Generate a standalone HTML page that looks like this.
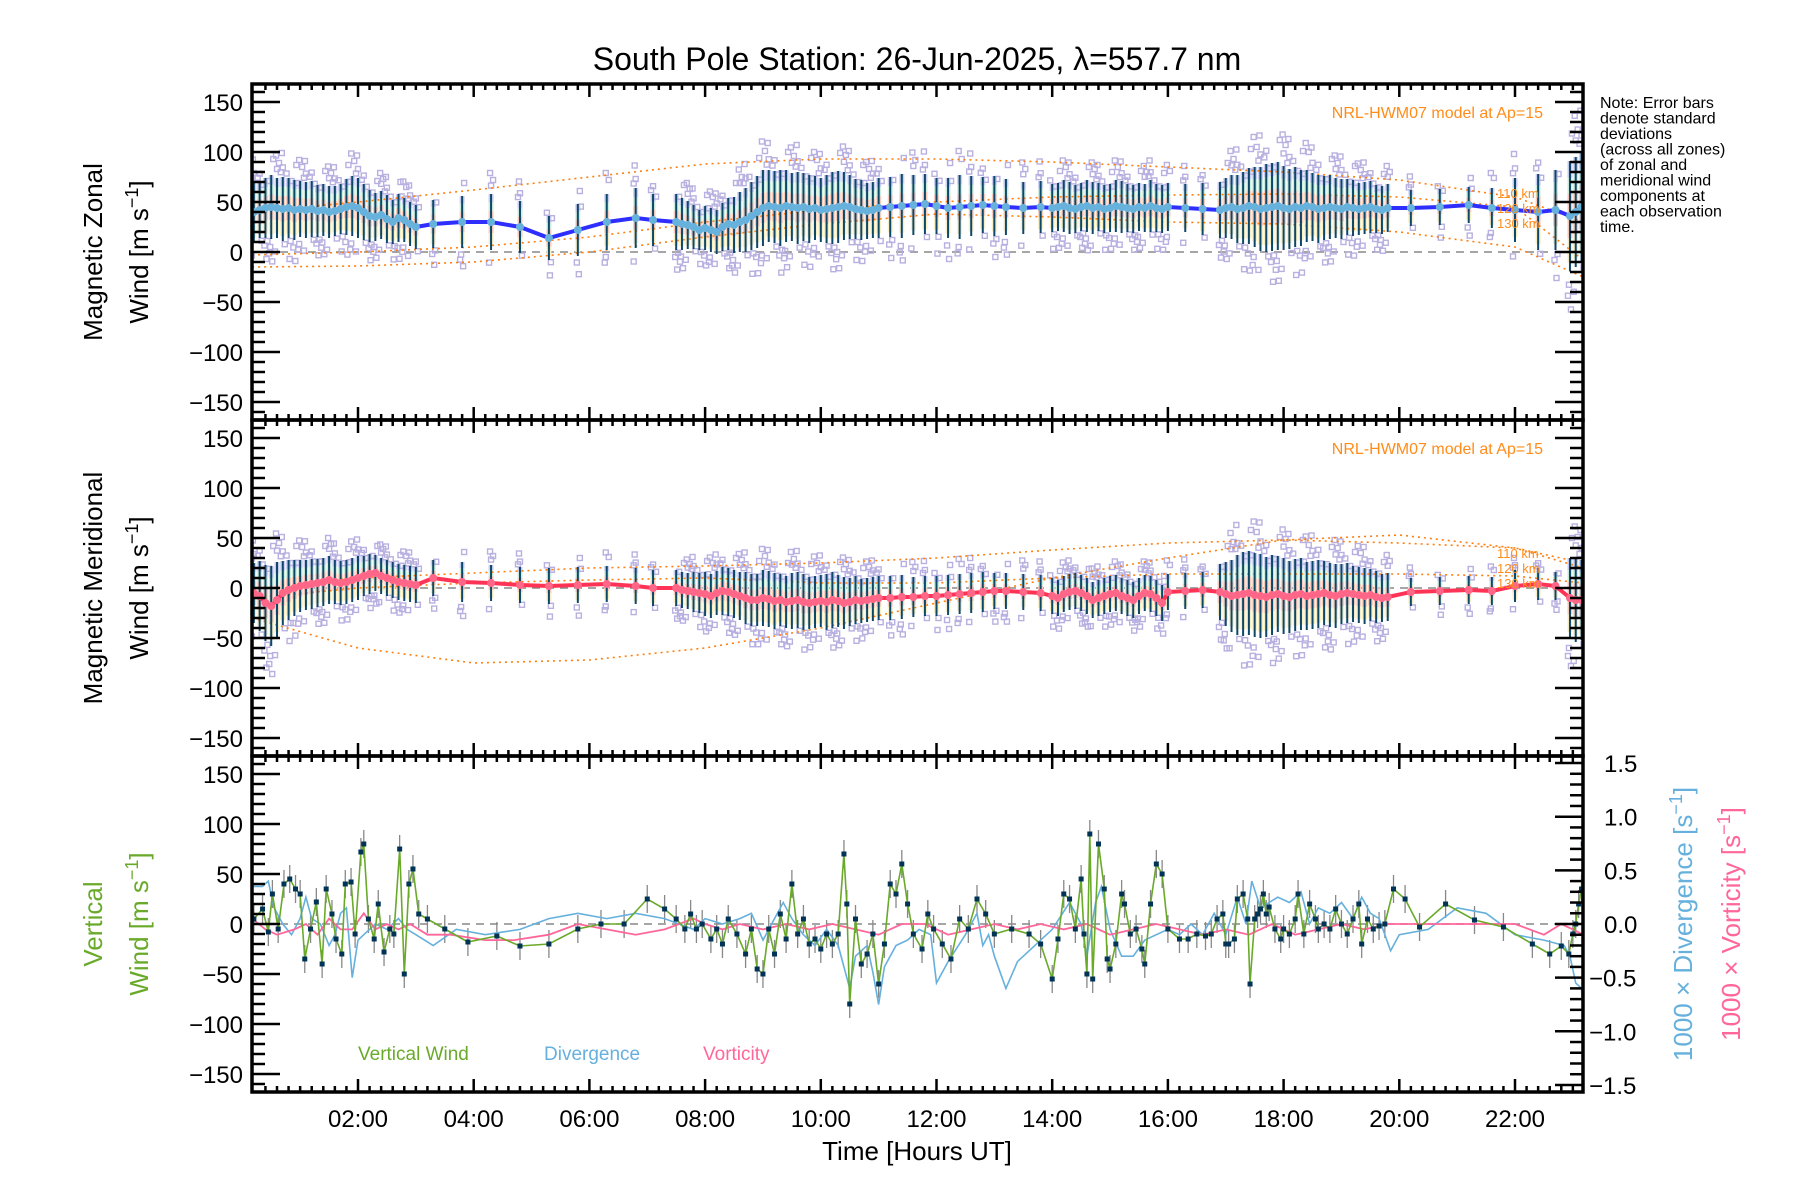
<!DOCTYPE html>
<html><head><meta charset="utf-8">
<style>
html,body{margin:0;padding:0;background:#fff;}
svg{display:block;font-family:"Liberation Sans",sans-serif;}
</style></head>
<body>
<svg id="chart" width="1800" height="1200" viewBox="0 0 1800 1200" xmlns="http://www.w3.org/2000/svg">
<text x="917" y="70" font-size="32" text-anchor="middle">South Pole Station: 26-Jun-2025, λ=557.7 nm</text>
<g id="layer"></g>
<text transform="translate(102,252) rotate(-90)" font-size="26" text-anchor="middle">Magnetic Zonal</text>
<text transform="translate(148,252) rotate(-90)" font-size="26" text-anchor="middle">Wind [m s<tspan dy="-10" font-size="18">−1</tspan><tspan dy="10">]</tspan></text>
<text transform="translate(102,588) rotate(-90)" font-size="26" text-anchor="middle">Magnetic Meridional</text>
<text transform="translate(148,588) rotate(-90)" font-size="26" text-anchor="middle">Wind [m s<tspan dy="-10" font-size="18">−1</tspan><tspan dy="10">]</tspan></text>
<text transform="translate(102,924) rotate(-90)" font-size="26" fill="#6aaa2a" text-anchor="middle">Vertical</text>
<text transform="translate(148,924) rotate(-90)" font-size="26" fill="#6aaa2a" text-anchor="middle">Wind [m s<tspan dy="-10" font-size="18">−1</tspan><tspan dy="10">]</tspan></text>
<text transform="translate(1692,924) rotate(-90)" font-size="26" fill="#66b0dd" text-anchor="middle">1000 × Divergence [s<tspan dy="-10" font-size="18">−1</tspan><tspan dy="10">]</tspan></text>
<text transform="translate(1740,924) rotate(-90)" font-size="26" fill="#ff6699" text-anchor="middle">1000 × Vorticity [s<tspan dy="-10" font-size="18">−1</tspan><tspan dy="10">]</tspan></text>
<text x="917" y="1160" font-size="26" text-anchor="middle">Time [Hours UT]</text>
<g font-size="16">
<text x="1600" y="108">Note: Error bars</text>
<text x="1600" y="123.5">denote standard</text>
<text x="1600" y="139">deviations</text>
<text x="1600" y="154.5">(across all zones)</text>
<text x="1600" y="170">of zonal and</text>
<text x="1600" y="185.5">meridional wind</text>
<text x="1600" y="201">components at</text>
<text x="1600" y="216.5">each observation</text>
<text x="1600" y="232">time.</text>
</g>
<text x="1543" y="118" font-size="16" fill="#ff8c1a" text-anchor="end">NRL-HWM07 model at Ap=15</text>
<text x="1543" y="454" font-size="16" fill="#ff8c1a" text-anchor="end">NRL-HWM07 model at Ap=15</text>
<g font-size="13" fill="#ff8c1a">
<text x="1497" y="198">110 km</text><text x="1497" y="213">120 km</text><text x="1497" y="228">130 km</text></g>
<g font-size="13" fill="#ff8c1a">
<text x="1497" y="558">110 km</text><text x="1497" y="573">120 km</text><text x="1497" y="588">130 km</text></g>
<text x="358" y="1060" font-size="19" fill="#6aaa2a">Vertical Wind</text>
<text x="544" y="1060" font-size="19" fill="#66b0dd">Divergence</text>
<text x="703" y="1060" font-size="19" fill="#ff6699">Vorticity</text>
</svg>
<script>
const obsTimes=[0.2,0.3,0.4,0.5,0.6,0.7,0.8,0.9,1.0,1.1,1.2,1.3,1.4,1.5,1.6,1.7,1.8,1.9,2.0,2.1,2.2,2.3,2.4,2.5,2.6,2.7,2.8,2.9,3.0,
3.3,3.8,4.3,4.8,5.3,5.8,6.3,6.8,7.1,
7.5,7.6,7.7,7.8,7.9,8.0,8.1,8.2,8.3,8.4,8.5,
8.6,8.7,8.8,8.9,9.0,9.1,9.2,9.3,9.4,9.5,9.6,9.7,9.8,9.9,10.0,10.1,10.2,10.3,10.4,10.5,10.6,10.7,10.8,10.9,11.0,
11.2,11.4,11.6,11.8,12.0,12.2,12.4,12.6,12.8,13.0,13.2,13.5,13.8,
14.0,14.1,14.2,14.3,14.4,14.5,14.6,14.7,14.8,14.9,15.0,15.1,15.2,15.3,15.4,15.5,15.6,15.7,15.8,15.9,16.0,
16.3,16.6,
16.9,17.0,17.1,17.2,17.3,17.4,17.5,17.6,17.7,17.8,17.9,18.0,18.1,18.2,18.3,18.4,18.5,18.6,18.7,18.8,18.9,19.0,19.1,19.2,19.3,19.4,19.5,19.6,19.7,19.8,
20.2,20.7,21.2,21.6,22.0,22.4,22.7,
22.95,23.05,23.15];
const zonalMean=[40,42,44,45,44,43,44,42,43,42,43,41,42,40,41,43,45,46,44,40,36,35,37,33,30,34,32,28,25,
28,30,30,25,14,22,30,34,32,
30,28,27,25,22,24,22,20,25,28,27,
30,32,36,40,44,46,45,44,46,45,44,45,43,44,42,43,44,45,46,45,43,42,41,42,44,
45,46,47,48,46,44,45,46,47,46,45,44,45,
44,45,46,44,43,45,46,44,45,43,44,46,45,44,43,45,44,46,44,43,45,
44,43,
42,44,45,43,44,46,45,43,44,45,46,44,43,45,44,46,45,43,44,45,44,43,45,44,43,44,45,43,42,44,
44,45,47,44,42,40,42,
36,40,45];
const zonalStd=[30,28,30,32,30,32,30,30,28,28,28,26,26,26,25,25,28,30,30,28,26,24,24,24,22,24,22,22,22,
24,26,28,26,22,26,28,30,26,
28,26,24,22,20,22,22,22,24,26,28,
30,32,34,36,38,36,36,38,36,34,36,34,34,32,32,34,36,36,34,32,30,30,28,28,30,
30,32,30,30,28,30,32,30,28,30,28,26,26,
24,24,26,26,24,24,26,26,24,24,24,26,26,24,24,24,24,26,24,24,24,
24,26,
28,30,32,34,36,38,40,42,44,44,44,42,40,40,38,36,34,34,32,32,30,30,28,28,26,26,26,24,24,24,
18,18,18,20,32,38,40,
55,55,55];
const meridMean=[-5,-8,-15,-18,-12,-5,-2,0,2,3,4,5,6,8,6,5,6,8,10,12,14,15,12,10,8,6,5,4,3,
10,6,5,3,2,3,4,2,0,
0,-2,-3,-4,-5,-6,-8,-5,-3,-4,-6,
-8,-10,-12,-12,-10,-11,-13,-12,-14,-13,-12,-14,-15,-14,-13,-14,-12,-13,-15,-14,-12,-13,-12,-11,-10,
-10,-9,-9,-8,-8,-7,-6,-5,-4,-3,-3,-4,-5,
-8,-10,-6,-4,-3,-5,-8,-12,-10,-8,-6,-5,-8,-10,-12,-8,-5,-6,-10,-15,-4,
-3,-2,
-4,-6,-8,-7,-6,-5,-7,-8,-9,-7,-6,-8,-9,-7,-6,-8,-7,-6,-5,-7,-8,-6,-5,-6,-7,-8,-7,-9,-10,-9,
-4,-3,-2,-3,2,4,2,
-10,-12,-12];
const meridStd=[30,35,38,40,38,32,30,28,26,25,25,24,24,24,22,22,22,22,22,20,20,18,18,18,18,18,18,18,18,
18,20,18,18,18,18,18,18,18,
18,18,18,20,20,22,22,22,24,24,24,
24,26,26,26,28,28,28,26,26,28,28,28,26,26,26,28,28,26,26,24,24,22,22,22,22,
22,22,20,20,20,20,20,20,20,18,18,18,18,
18,18,18,18,18,18,18,18,18,18,18,18,18,18,18,18,18,18,18,18,18,
18,18,
28,32,36,40,42,42,42,42,40,40,38,38,36,36,36,34,34,34,32,32,32,30,30,28,28,28,26,26,24,24,
14,14,14,14,16,16,14,
40,42,40];
const hwmHours=[0.17,2,4,6,8,10,12,14,16,18,20,22,23.18];
const hwmZonal110=[40,50,62,75,88,93,93,90,85,80,72,55,30];
const hwmZonal120=[-3,0,5,15,30,42,50,55,57,58,55,45,-8];
const hwmZonal130=[-15,-14,-10,0,15,28,38,35,30,28,20,5,-25];
const hwmMerid110=[-30,-60,-75,-72,-60,-40,-15,10,30,48,53,40,20];
const hwmMerid120=[0,10,15,20,22,25,30,38,45,48,45,40,25];
const hwmMerid130=[-10,0,5,8,10,5,5,10,14,14,14,12,5];
const vwTimes=[0.2,0.35,0.45,0.52,0.62,0.72,0.82,0.92,1.0,1.08,1.18,1.28,1.38,1.45,1.55,1.62,1.72,1.78,1.88,1.95,2.05,2.1,2.18,2.28,2.35,2.45,2.55,2.62,2.72,2.8,2.88,2.95,3.05,3.2,3.5,3.9,4.4,4.8,5.3,5.8,6.2,6.6,7.0,7.3,7.5,7.65,7.75,7.85,7.95,
8.1,8.2,8.3,8.4,8.55,8.7,8.8,8.9,9.0,9.1,9.2,9.3,9.4,9.5,9.6,9.7,9.8,9.9,10.0,10.1,10.2,10.3,10.4,10.45,10.5,10.6,10.7,10.8,10.9,11.0,11.1,11.2,11.3,11.4,11.5,11.6,11.75,11.85,11.95,12.1,12.25,12.4,12.55,12.7,12.85,13.0,13.3,13.6,13.8,
14.0,14.1,14.2,14.3,14.4,14.5,14.55,14.6,14.65,14.7,14.8,14.9,14.95,15.0,15.1,15.2,15.25,15.35,15.45,15.55,15.6,15.7,15.8,15.9,16.0,16.2,16.35,16.5,16.65,16.75,16.85,16.95,
17.0,17.05,17.15,17.2,17.3,17.38,17.42,17.5,17.55,17.6,17.65,17.7,17.75,17.85,17.95,18.0,18.1,18.2,18.25,18.35,18.45,18.55,18.6,18.7,18.8,18.9,19.0,19.1,19.2,19.3,19.35,19.45,19.55,19.65,19.75,19.9,20.1,20.35,20.8,21.3,21.8,22.3,22.6,22.8,22.93,23.0,23.05,23.1,23.15,23.18];
const vwValues=[5,15,-8,30,-5,40,45,35,30,-35,-5,22,-40,35,10,-15,-30,40,42,-10,72,80,5,-15,20,-28,-5,-10,75,-50,40,55,10,5,-5,-18,-12,-22,-20,-5,0,0,25,15,5,-5,10,-5,0,
-15,-5,-20,5,-10,-30,-5,-45,-50,-5,-30,10,-15,40,-10,5,-20,-15,-25,-10,-20,-10,70,20,-80,5,-40,-30,-10,-60,-20,40,30,60,20,-10,-25,10,-5,-20,-35,5,-5,25,10,-10,-5,-10,-20,
-55,-15,30,25,-5,45,-10,-50,90,-55,80,35,-35,-45,-20,30,20,-10,-5,-25,-40,20,60,50,-5,-15,-15,-10,-12,-10,5,10,
-20,-20,-15,25,30,5,-60,5,10,15,30,10,17,-5,-15,-5,-10,5,30,-10,20,5,-5,0,-5,15,0,-10,5,20,-20,5,-5,-2,0,35,25,-3,20,4,-3,-20,-30,-22,-30,-10,0,20,35,80];
const divTimes=[0.17,0.35,0.45,0.55,0.7,0.85,1.0,1.1,1.2,1.35,1.5,1.6,1.7,1.8,1.9,2.0,2.1,2.3,2.5,2.7,2.85,3.0,3.3,3.7,4.2,4.8,5.3,5.8,6.3,6.8,7.3,7.8,8.0,8.3,8.6,8.8,9.0,9.2,9.35,9.5,9.7,9.9,10.1,10.3,10.5,10.6,10.8,10.9,11.0,11.1,11.3,11.5,11.7,11.9,12.0,12.2,12.5,12.7,12.8,12.9,13.0,13.2,13.4,13.6,14.0,14.3,14.5,14.6,14.75,14.85,15.0,15.2,15.4,15.6,15.8,16.0,16.2,16.4,16.6,16.8,17.0,17.2,17.35,17.45,17.6,17.75,17.9,18.1,18.3,18.45,18.6,18.8,19.0,19.2,19.35,19.5,19.65,19.85,20.0,20.5,21.0,21.5,22.0,22.5,22.85,22.95,23.05,23.15,23.18];
const divValues=[0.35,0.35,0.4,0.15,0.0,-0.1,0.05,0.25,0.05,0.0,-0.2,-0.1,0.1,0.15,-0.5,-0.15,-0.1,0.0,-0.05,0.05,-0.05,-0.1,-0.2,-0.05,-0.1,-0.05,0.05,0.1,0.05,0.1,0.05,-0.05,0.05,0.0,0.05,0.1,-0.15,0.05,0.2,0.05,-0.1,-0.2,-0.05,-0.2,-0.6,-0.3,-0.2,-0.45,-0.75,-0.4,-0.2,-0.15,-0.05,-0.1,-0.55,-0.35,-0.1,0.1,-0.2,-0.1,-0.3,-0.6,-0.35,-0.25,-0.05,0.2,0.0,-0.3,0.2,0.35,-0.05,-0.3,-0.3,-0.15,-0.1,-0.05,-0.1,0.0,-0.1,0.1,-0.1,0.25,0.0,0.4,0.15,0.2,0.25,0.2,0.3,0.0,0.15,0.1,0.2,0.05,0.25,0.1,0.05,-0.25,-0.1,-0.05,0.15,0.1,-0.1,-0.15,-0.2,-0.3,-0.55,-0.6,-0.9];
const vortTimes=[0.17,0.4,0.6,0.9,1.1,1.3,1.5,1.7,1.9,2.1,2.3,2.5,2.7,2.9,3.2,3.6,4.2,4.7,5.3,5.8,6.3,6.8,7.3,7.8,8.0,8.3,8.6,9.0,9.4,9.8,10.2,10.6,11.0,11.4,11.8,12.2,12.6,13.0,13.4,13.8,14.2,14.6,15.0,15.4,15.8,16.2,16.6,17.0,17.4,17.8,18.2,18.6,19.0,19.4,19.8,20.5,21.5,22.0,22.5,22.8,23.0,23.18];
const vortValues=[0.05,-0.05,-0.1,-0.05,0.0,-0.1,0.05,-0.05,-0.05,0.1,-0.05,0.0,-0.05,0.0,-0.1,-0.1,-0.15,-0.15,-0.1,0.0,-0.05,-0.1,-0.05,0.05,0.0,-0.05,0.0,-0.05,0.0,-0.05,0.0,-0.05,-0.1,0.0,0.0,-0.1,-0.05,0.0,-0.05,0.0,-0.05,0.0,-0.1,-0.05,0.0,-0.05,-0.1,-0.05,-0.1,0.0,-0.1,-0.05,0.0,-0.05,0.0,0.0,0.0,0.0,-0.1,0.0,-0.05,-0.1];
const yTickLabels=["150","100","50","0","−50","−100","−150"];
const yTickValues=[150,100,50,0,-50,-100,-150];
const rTickLabels=["1.5","1.0","0.5","0.0","−0.5","−1.0","−1.5"];
const rTickValues=[1.5,1.0,0.5,0.0,-0.5,-1.0,-1.5];
const xTickLabels=["02:00","04:00","06:00","08:00","10:00","12:00","14:00","16:00","18:00","20:00","22:00"];
const xTickHours=[2,4,6,8,10,12,14,16,18,20,22];

const NS="http://www.w3.org/2000/svg";
const L=252,R=1583,panelTops=[84,420,756],PH=336;
const xs=h=>358+(h-2)*57.85;
const ys=(p,v)=>panelTops[p]+168-v;
const yr=v=>924-v*107.3;
const layer=document.getElementById('layer');
function mk(tag,attrs,parent){const e=document.createElementNS(NS,tag);for(const k in attrs)e.setAttribute(k,attrs[k]);(parent||layer).appendChild(e);return e;}
function clipG(p,name){const g=mk('g',{'clip-path':'url(#clip'+p+')'});return g;}
const defs=mk('defs',{});
for(let p=0;p<3;p++){const c=mk('clipPath',{id:'clip'+p},defs);mk('rect',{x:L,y:panelTops[p],width:R-L,height:PH},c);}

function pathOf(xsArr,vals,fy){return xsArr.map((t,i)=>(i?'L':'M')+xs(t).toFixed(1)+','+fy(vals[i]).toFixed(1)).join(' ');}
const scatterPattern=[[1.15,-2],[1.5,2],[-1.1,2],[-1.45,-2],[0.9,3],[1.75,-1],[-1.7,1],[1.3,0],[-1.25,-1]];

function windPanel(p,means,stds,lineColor,dotColor,models,prefix){
  const g=clipG(p,prefix+'-series');
  mk('line',{x1:L,x2:R,y1:ys(p,0),y2:ys(p,0),stroke:'#888','stroke-width':1.5,'stroke-dasharray':'8 6'},g);
  const bands=mk('g',{},g);
  
  
  obsTimes.forEach((t,i)=>{
    const x=xs(t),m=means[i],s=stds[i];
    const w=5;
    mk('rect',{x:x-w/2,y:ys(p,m+s*1.0),width:w,height:s*0.3,fill:'#c9cdf2'},bands);
    mk('rect',{x:x-w/2,y:ys(p,m+s*0.7),width:w,height:s*0.3,fill:'#cdeedd'},bands);
    mk('rect',{x:x-w/2,y:ys(p,m+s*0.4),width:w,height:s*0.8,fill:'#f9cbbb'},bands);
    mk('rect',{x:x-w/2,y:ys(p,m-s*0.4),width:w,height:s*0.45,fill:'#f8eec6'},bands);
  });
  const sc=mk('g',{fill:'none',stroke:'#b8b0e0','stroke-width':1.4},g);
  
  
  obsTimes.forEach((t,i)=>{
    const x=xs(t),m=means[i],s=stds[i];
    for(let j=0;j<4;j++){
      const [k,dx]=scatterPattern[(i*4+j*7)%scatterPattern.length];
      mk('rect',{x:x+dx-2.5,y:ys(p,m+k*s)-2.5,width:5,height:5},sc);
    }
  });
  models.forEach((arr,j)=>{
    const mp=mk('path',{d:pathOf(hwmHours,arr,v=>ys(p,v)),fill:'none',stroke:'#ff7f0e','stroke-width':1.6,'stroke-dasharray':'2 4'},g);
    
    
  });
  const bars=mk('g',{stroke:'#0e4868','stroke-width':2},g);
  
  
  obsTimes.forEach((t,i)=>{mk('line',{x1:xs(t),x2:xs(t),y1:ys(p,means[i]+stds[i]),y2:ys(p,means[i]-stds[i])},bars);});
  const ln=mk('path',{d:pathOf(obsTimes,means,v=>ys(p,v)),fill:'none',stroke:lineColor,'stroke-width':4},g);
  
  
  const dots=mk('g',{fill:dotColor},g);
  
  
  obsTimes.forEach((t,i)=>{mk('circle',{cx:xs(t),cy:ys(p,means[i]),r:4},dots);});
}
windPanel(0,zonalMean,zonalStd,'#2e2eff','#66b2dd',[hwmZonal110,hwmZonal120,hwmZonal130],'zonal');
windPanel(1,meridMean,meridStd,'#ff3355','#ff6688',[hwmMerid110,hwmMerid120,hwmMerid130],'meridional');

const g3=clipG(2,'vertical-panel-series');
mk('line',{x1:L,x2:R,y1:924,y2:924,stroke:'#888','stroke-width':1.5,'stroke-dasharray':'8 6'},g3);
const vErr=mk('g',{stroke:'#888','stroke-width':1.3},g3);


vwTimes.forEach((t,i)=>{mk('line',{x1:xs(t),x2:xs(t),y1:ys(2,vwValues[i]+14),y2:ys(2,vwValues[i]-14)},vErr);});
const divL=mk('path',{d:pathOf(divTimes,divValues,yr),fill:'none',stroke:'#66b0dd','stroke-width':1.6},g3);


const vorL=mk('path',{d:pathOf(vortTimes,vortValues,yr),fill:'none',stroke:'#ff6699','stroke-width':1.8},g3);


const vwL=mk('path',{d:pathOf(vwTimes,vwValues,v=>ys(2,v)),fill:'none',stroke:'#6aaa2a','stroke-width':1.6},g3);


const vwP=mk('g',{fill:'#003355'},g3);


vwTimes.forEach((t,i)=>{mk('rect',{x:xs(t)-2.5,y:ys(2,vwValues[i])-2.5,width:5,height:5},vwP);});

const ax=mk('g',{stroke:'#000','stroke-width':2.5,fill:'none'});


for(let p=0;p<3;p++){
  const T=panelTops[p],B=T+PH;
  mk('rect',{x:L,y:T,width:R-L,height:PH,'stroke-width':3.5},ax);
  for(let k=1;k<=116;k++){
    const h=k*0.2;const x=xs(h);if(x<L+2||x>R-2)continue;
    const major=k%10===0;
    const len=major?13:6;
    mk('line',{x1:x,x2:x,y1:T,y2:T+len},ax);
    mk('line',{x1:x,x2:x,y1:B,y2:B-len},ax);
  }
  for(let v=-160;v<=160;v+=10){
    const y=ys(p,v);const major=v%50===0;const len=major?28:13;
    mk('line',{x1:L,x2:L+len,y1:y,y2:y},ax);
    if(p<2)mk('line',{x1:R,x2:R-len,y1:y,y2:y},ax);
  }
  const lbl=mk('g',{'font-size':24,'text-anchor':'end',fill:'#000'});
  
  
  yTickValues.forEach((v,i)=>{const t=mk('text',{x:243,y:ys(p,v)+9},lbl);t.textContent=yTickLabels[i];});
}
for(let k=-15;k<=15;k++){
  const y=yr(k/10);const major=k%5===0;const len=major?28:13;
  mk('line',{x1:R,x2:R-len,y1:y,y2:y},ax);
}
const rl=mk('g',{'font-size':24,fill:'#000'});


rTickValues.forEach((v,i)=>{const t=mk('text',{x:rTickLabels[i][0]==='−'?1589:1604,y:yr(v)+9},rl);t.textContent=rTickLabels[i];});
const xl=mk('g',{'font-size':24,'text-anchor':'middle',fill:'#000'});


xTickHours.forEach((h,i)=>{const t=mk('text',{x:xs(h),y:1127},xl);t.textContent=xTickLabels[i];});
</script>
</body></html>
